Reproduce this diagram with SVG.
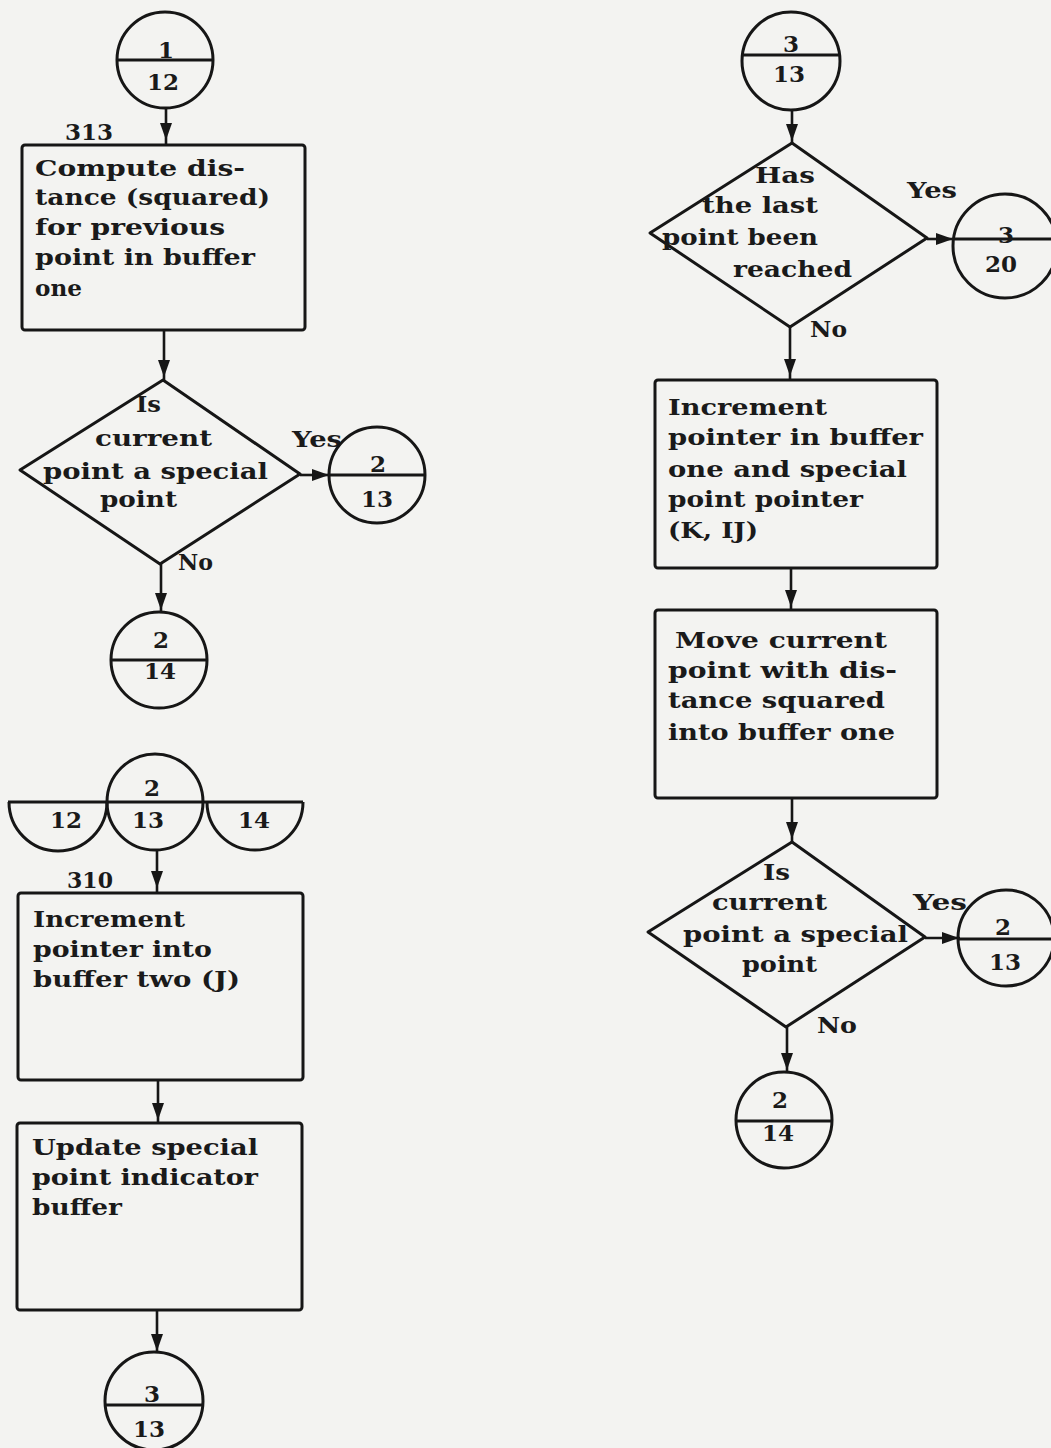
<svg xmlns="http://www.w3.org/2000/svg" width="1051" height="1448" viewBox="0 0 1051 1448">
  <defs>
    <style>
      .bg { fill: #f3f3f1; }
      .shape { fill: none; stroke: #161616; stroke-width: 3; stroke-linejoin: round; }
      .line { fill: none; stroke: #161616; stroke-width: 3; }
      .flow { fill: none; stroke: #161616; stroke-width: 2.6; marker-mid: url(#head); }
      text { font-family: "DejaVu Serif", "Liberation Serif", serif; font-weight: bold; font-size: 22px; fill: #1a1a1a; }
      .num { text-anchor: middle; font-size: 23px; }
    </style>
    <marker id="head" viewBox="0 0 17 12" refX="17" refY="6" markerWidth="17" markerHeight="12" markerUnits="userSpaceOnUse" orient="auto">
      <path d="M0,0 L17,6 L0,12 z" fill="#161616"/>
    </marker>
  </defs>

  <rect class="bg" x="0" y="0" width="1051" height="1448"/>

  <!-- connectors: each arrowhead sits on the middle vertex of its path -->
  <g id="connectors">
    <path class="flow" d="M166,108 L166,140 L166,145"/>
    <path class="flow" d="M164,330 L164,377 L164,380"/>
    <path class="flow" d="M300,475 L329,475 L330,475"/>
    <path class="flow" d="M161,564 L161,610 L161,612"/>
    <path class="flow" d="M157,850 L157,888 L157,893"/>
    <path class="flow" d="M158,1080 L158,1120 L158,1123"/>
    <path class="flow" d="M157,1310 L157,1351 L157,1353"/>
    <path class="flow" d="M792,110 L792,141 L792,143"/>
    <path class="flow" d="M927,239 L953,239 L955,239"/>
    <path class="flow" d="M790,327 L790,376 L790,380"/>
    <path class="flow" d="M791,568 L791,607 L791,610"/>
    <path class="flow" d="M792,798 L792,839 L792,842"/>
    <path class="flow" d="M925,938 L959,938 L960,938"/>
    <path class="flow" d="M787,1027 L787,1070 L787,1072"/>
  </g>

  <!-- left column -->
  <g id="conn-1-12">
    <circle class="shape" cx="165" cy="60" r="48"/>
    <line class="line" x1="117" y1="60" x2="213" y2="60"/>
    <text class="num" x="166" y="58">1</text>
    <text class="num" x="163" y="90">12</text>
  </g>

  <g id="label-313"><text x="65" y="140" textLength="48" lengthAdjust="spacingAndGlyphs">313</text></g>

  <g id="box-compute">
    <rect class="shape" x="22" y="145" width="283" height="185" rx="3"/>
    <text x="35" y="176" textLength="210" lengthAdjust="spacingAndGlyphs">Compute dis-</text>
    <text x="35" y="205" textLength="235" lengthAdjust="spacingAndGlyphs">tance (squared)</text>
    <text x="35" y="235" textLength="190" lengthAdjust="spacingAndGlyphs">for previous</text>
    <text x="35" y="265" textLength="220" lengthAdjust="spacingAndGlyphs">point in buffer</text>
    <text x="35" y="296" textLength="47" lengthAdjust="spacingAndGlyphs">one</text>
  </g>

  <g id="decision-special-1">
    <polygon class="shape" points="163,380 300,474 160,564 20,470"/>
    <text x="136" y="412" textLength="25" lengthAdjust="spacingAndGlyphs">Is</text>
    <text x="95" y="446" textLength="117" lengthAdjust="spacingAndGlyphs">current</text>
    <text x="43" y="479" textLength="225" lengthAdjust="spacingAndGlyphs">point a special</text>
    <text x="100" y="507" textLength="77" lengthAdjust="spacingAndGlyphs">point</text>
    <text x="292" y="447" textLength="50" lengthAdjust="spacingAndGlyphs">Yes</text>
    <text x="178" y="570" textLength="35" lengthAdjust="spacingAndGlyphs">No</text>
  </g>

  <g id="conn-2-13-a">
    <circle class="shape" cx="377" cy="475" r="48"/>
    <line class="line" x1="329" y1="475" x2="425" y2="475"/>
    <text class="num" x="378" y="472">2</text>
    <text class="num" x="377" y="507">13</text>
  </g>

  <g id="conn-2-14-a">
    <circle class="shape" cx="159" cy="660" r="48"/>
    <line class="line" x1="111" y1="660" x2="207" y2="660"/>
    <text class="num" x="161" y="648">2</text>
    <text class="num" x="160" y="679">14</text>
  </g>

  <g id="entry-2-12-13-14">
    <line class="line" x1="8" y1="802" x2="303" y2="802"/>
    <path class="shape" d="M9,802 A49,49 0 0 0 107,802"/>
    <circle class="shape" cx="155" cy="802" r="48"/>
    <path class="shape" d="M207,802 A48,48 0 0 0 303,802"/>
    <text class="num" x="152" y="796">2</text>
    <text class="num" x="66" y="828">12</text>
    <text class="num" x="148" y="828">13</text>
    <text class="num" x="254" y="828">14</text>
  </g>

  <g id="label-310"><text x="67" y="888" textLength="46" lengthAdjust="spacingAndGlyphs">310</text></g>

  <g id="box-increment-j">
    <rect class="shape" x="18" y="893" width="285" height="187" rx="3"/>
    <text x="33" y="927" textLength="152" lengthAdjust="spacingAndGlyphs">Increment</text>
    <text x="33" y="957" textLength="179" lengthAdjust="spacingAndGlyphs">pointer into</text>
    <text x="33" y="987" textLength="207" lengthAdjust="spacingAndGlyphs">buffer two (J)</text>
  </g>

  <g id="box-update">
    <rect class="shape" x="17" y="1123" width="285" height="187" rx="3"/>
    <text x="32" y="1155" textLength="226" lengthAdjust="spacingAndGlyphs">Update special</text>
    <text x="32" y="1185" textLength="226" lengthAdjust="spacingAndGlyphs">point indicator</text>
    <text x="32" y="1215" textLength="90" lengthAdjust="spacingAndGlyphs">buffer</text>
  </g>

  <g id="conn-3-13-a">
    <circle class="shape" cx="154" cy="1401" r="49"/>
    <line class="line" x1="106" y1="1405" x2="202" y2="1405"/>
    <text class="num" x="152" y="1402">3</text>
    <text class="num" x="149" y="1437">13</text>
  </g>

  <!-- right column -->
  <g id="conn-3-13-b">
    <circle class="shape" cx="791" cy="61" r="49"/>
    <line class="line" x1="743" y1="55" x2="839" y2="55"/>
    <text class="num" x="791" y="52">3</text>
    <text class="num" x="789" y="82">13</text>
  </g>

  <g id="decision-last-point">
    <polygon class="shape" points="792,143 927,238 790,327 650,233"/>
    <text x="755" y="183" textLength="60" lengthAdjust="spacingAndGlyphs">Has</text>
    <text x="702" y="213" textLength="116" lengthAdjust="spacingAndGlyphs">the last</text>
    <text x="662" y="245" textLength="156" lengthAdjust="spacingAndGlyphs">point been</text>
    <text x="733" y="277" textLength="119" lengthAdjust="spacingAndGlyphs">reached</text>
    <text x="907" y="198" textLength="50" lengthAdjust="spacingAndGlyphs">Yes</text>
    <text x="810" y="337" textLength="37" lengthAdjust="spacingAndGlyphs">No</text>
  </g>

  <g id="conn-3-20">
    <circle class="shape" cx="1005" cy="246" r="52"/>
    <line class="line" x1="955" y1="239" x2="1051" y2="239"/>
    <text class="num" x="1006" y="243">3</text>
    <text class="num" x="1001" y="272">20</text>
  </g>

  <g id="box-increment-k">
    <rect class="shape" x="655" y="380" width="282" height="188" rx="3"/>
    <text x="668" y="415" textLength="159" lengthAdjust="spacingAndGlyphs">Increment</text>
    <text x="668" y="445" textLength="255" lengthAdjust="spacingAndGlyphs">pointer in buffer</text>
    <text x="668" y="477" textLength="239" lengthAdjust="spacingAndGlyphs">one and special</text>
    <text x="668" y="507" textLength="195" lengthAdjust="spacingAndGlyphs">point pointer</text>
    <text x="668" y="538" textLength="90" lengthAdjust="spacingAndGlyphs">(K, IJ)</text>
  </g>

  <g id="box-move">
    <rect class="shape" x="655" y="610" width="282" height="188" rx="3"/>
    <text x="675" y="648" textLength="212" lengthAdjust="spacingAndGlyphs">Move current</text>
    <text x="668" y="678" textLength="229" lengthAdjust="spacingAndGlyphs">point with dis-</text>
    <text x="668" y="708" textLength="217" lengthAdjust="spacingAndGlyphs">tance squared</text>
    <text x="668" y="740" textLength="227" lengthAdjust="spacingAndGlyphs">into buffer one</text>
  </g>

  <g id="decision-special-2">
    <polygon class="shape" points="792,842 925,937 786,1027 648,932"/>
    <text x="763" y="880" textLength="27" lengthAdjust="spacingAndGlyphs">Is</text>
    <text x="712" y="910" textLength="115" lengthAdjust="spacingAndGlyphs">current</text>
    <text x="683" y="942" textLength="225" lengthAdjust="spacingAndGlyphs">point a special</text>
    <text x="742" y="972" textLength="75" lengthAdjust="spacingAndGlyphs">point</text>
    <text x="913" y="910" textLength="54" lengthAdjust="spacingAndGlyphs">Yes</text>
    <text x="817" y="1033" textLength="40" lengthAdjust="spacingAndGlyphs">No</text>
  </g>

  <g id="conn-2-13-b">
    <circle class="shape" cx="1006" cy="938" r="48"/>
    <line class="line" x1="958" y1="939" x2="1051" y2="939"/>
    <text class="num" x="1003" y="935">2</text>
    <text class="num" x="1005" y="970">13</text>
  </g>

  <g id="conn-2-14-b">
    <circle class="shape" cx="784" cy="1120" r="48"/>
    <line class="line" x1="736" y1="1121" x2="832" y2="1121"/>
    <text class="num" x="780" y="1108">2</text>
    <text class="num" x="778" y="1141">14</text>
  </g>
</svg>
